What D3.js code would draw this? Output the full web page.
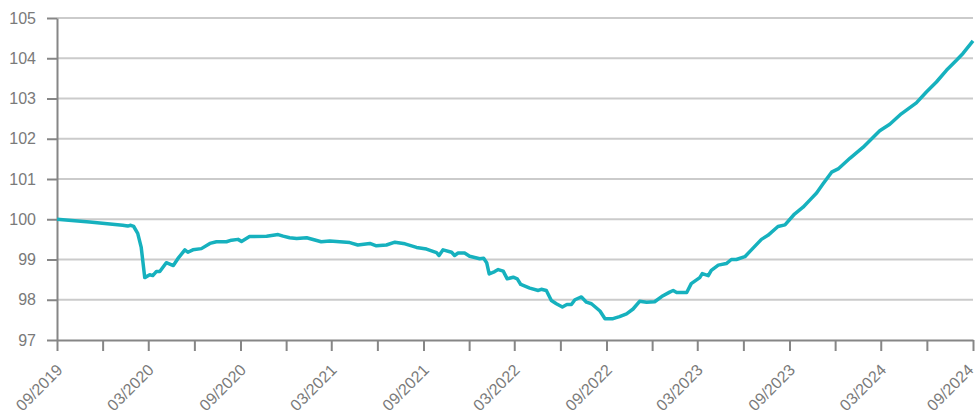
<!DOCTYPE html>
<html>
<head>
<meta charset="utf-8">
<script src="https://cdn.jsdelivr.net/npm/d3@7"></script>
<style>
  body { margin: 0; background: #fff; }
  text { font-family: "Liberation Sans", Arial, sans-serif; }
</style>
</head>
<body>
<div id="chart"></div>
<script>
var dates = [
  "2019-09-01","2019-11-05","2020-01-10","2020-01-20","2020-01-26","2020-02-01","2020-02-09","2020-02-16","2020-02-23",
  "2020-03-04","2020-03-10","2020-03-17","2020-03-24","2020-04-06","2020-04-20","2020-04-29","2020-05-13","2020-05-19",
  "2020-05-29","2020-06-15","2020-07-02","2020-07-15","2020-08-04","2020-08-14","2020-08-27","2020-09-03","2020-09-19",
  "2020-10-23","2020-11-15","2020-11-25","2020-12-08","2020-12-22","2021-01-11","2021-02-09","2021-02-26","2021-04-07",
  "2021-04-23","2021-05-17","2021-05-30","2021-06-19","2021-07-06","2021-07-26","2021-08-18","2021-09-07","2021-09-27",
  "2021-10-02","2021-10-10","2021-10-27","2021-11-02","2021-11-09","2021-11-22","2021-12-02","2021-12-22","2021-12-30",
  "2022-01-05","2022-01-10","2022-01-21","2022-01-28","2022-02-07","2022-02-15","2022-02-27","2022-03-07","2022-03-14",
  "2022-04-01","2022-04-18","2022-04-24","2022-05-04","2022-05-14","2022-05-24","2022-06-05","2022-06-14","2022-06-23",
  "2022-06-30","2022-07-13","2022-07-23","2022-08-02","2022-08-19","2022-08-29","2022-09-14","2022-09-27","2022-10-11",
  "2022-10-24","2022-11-06","2022-11-20","2022-12-06","2022-12-20","2023-01-05","2023-01-12","2023-01-19","2023-02-08",
  "2023-02-17","2023-03-06","2023-03-11","2023-03-23","2023-03-29","2023-04-12","2023-04-28","2023-05-08","2023-05-18",
  "2023-06-04","2023-06-17","2023-07-07","2023-07-20","2023-08-09","2023-08-23","2023-09-11","2023-09-28","2023-10-11",
  "2023-10-25","2023-11-07","2023-11-24","2023-12-07","2023-12-31","2024-01-26","2024-02-12","2024-02-28","2024-03-19",
  "2024-04-11","2024-05-11","2024-05-31","2024-06-20","2024-07-10","2024-07-30","2024-08-12","2024-09-01"
];
var values = [
  100.0, 99.93, 99.85, 99.83, 99.85, 99.82, 99.65, 99.3, 98.55,
  98.62, 98.6, 98.7, 98.7, 98.92, 98.85, 99.02, 99.24, 99.18,
  99.24, 99.27, 99.4, 99.44, 99.44, 99.48, 99.5, 99.45, 99.57,
  99.58, 99.62, 99.58, 99.54, 99.52, 99.54, 99.44, 99.46, 99.42,
  99.36, 99.4, 99.34, 99.36, 99.43, 99.39, 99.3, 99.26, 99.17,
  99.1, 99.24, 99.18, 99.1, 99.16, 99.16, 99.08, 99.02, 99.03,
  98.92, 98.64, 98.7, 98.75, 98.71, 98.52, 98.56, 98.52, 98.38,
  98.29, 98.23, 98.26, 98.23, 97.98, 97.9, 97.82, 97.88, 97.88,
  98.0, 98.07, 97.94, 97.9, 97.72, 97.53, 97.53, 97.58, 97.65,
  97.77, 97.96, 97.94, 97.95, 98.08, 98.19, 98.23, 98.18, 98.18,
  98.4, 98.55, 98.65, 98.6, 98.73, 98.86, 98.9, 99.0, 99.0,
  99.07, 99.24, 99.5, 99.6, 99.82, 99.86, 100.13, 100.3, 100.47,
  100.65, 100.88, 101.17, 101.25, 101.52, 101.79, 102.0, 102.2, 102.36,
  102.62, 102.89, 103.16, 103.41, 103.7, 103.95, 104.12, 104.43
];
var yTicks = [97, 98, 99, 100, 101, 102, 103, 104, 105];
var xStart = "2019-09-01";
var xEnd = "2024-09-01";

function init() {
    var w = 978;
    var h = 419;
    var margin = {top: 18, right: 5, bottom: 79, left: 57};
    var parse = d3.timeParse("%Y-%m-%d");

    var data = dates.map(function(d, i) {
        return {date: parse(d), value: values[i]};
    });

    var svg = d3.select("#chart")
                .append("svg")
                .attr("width", w)
                .attr("height", h);

    var x = d3.scaleTime()
              .domain([parse(xStart), parse(xEnd)])
              .range([margin.left, w - margin.right]);

    var y = d3.scaleLinear()
              .domain([97, 105])
              .range([h - margin.bottom, margin.top]);

    // gridlines
    svg.selectAll(".grid")
       .data(yTicks.slice(1))
       .enter()
       .append("line")
       .attr("x1", margin.left)
       .attr("x2", w - margin.right)
       .attr("y1", function(d) { return y(d); })
       .attr("y2", function(d) { return y(d); })
       .attr("stroke", "#cbcbcb")
       .attr("stroke-width", 2);

    // y axis
    var yAxis = svg.append("g")
       .attr("transform", "translate(" + margin.left + ",0)")
       .call(d3.axisLeft(y).tickValues(yTicks).tickSize(10).tickSizeOuter(0)
             .tickPadding(11).tickFormat(d3.format("d")));

    // x axis, one tick per quarter, label every half year
    var quarters = d3.range(21).map(function(i) {
        return d3.timeMonth.offset(parse(xStart), 3 * i);
    });
    var fmt = d3.timeFormat("%m/%Y");
    var xAxis = svg.append("g")
       .attr("transform", "translate(0," + (h - margin.bottom) + ")")
       .call(d3.axisBottom(x).tickValues(quarters).tickSize(11).tickSizeOuter(0)
             .tickFormat(function(d, i) { return i % 2 === 0 ? fmt(d) : ""; }));

    xAxis.selectAll("text")
         .attr("text-anchor", "end")
         .attr("x", 0)
         .attr("y", 0)
         .attr("dy", 0)
         .attr("transform", function(d, i) {
             // last label sits at the right edge
             return i === quarters.length - 1 ? "translate(1,31) rotate(-45)" : "translate(6,31) rotate(-45)";
         });

    [yAxis, xAxis].forEach(function(g) {
        g.select(".domain").attr("stroke", "#868686").attr("stroke-width", 2);
        g.selectAll(".tick line").attr("stroke", "#868686").attr("stroke-width", 2);
        g.selectAll("text").attr("fill", "#7a7a7a").style("font-size", "16px");
    });

    var line = d3.line()
                 .x(function(d) { return x(d.date); })
                 .y(function(d) { return y(d.value); });

    svg.append("path")
       .datum(data)
       .attr("d", line)
       .attr("fill", "none")
       .attr("stroke", "#16b1be")
       .attr("stroke-width", 3.5)
       .attr("stroke-linejoin", "round");
}

window.onload = init
</script>
</body>
</html>
